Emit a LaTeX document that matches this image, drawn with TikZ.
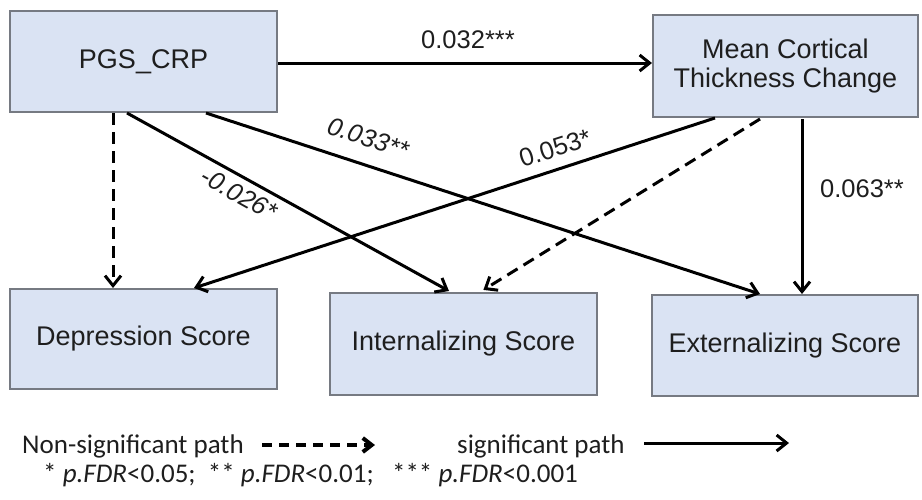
\documentclass[tikz,border=0pt]{standalone}
\usepackage{fontspec}
\setmainfont{Liberation Sans}
\newfontfamily\legfont{Carlito}
\usetikzlibrary{arrows.meta,calc}
\definecolor{boxfill}{RGB}{218,227,243}
\definecolor{boxline}{RGB}{118,122,130}
\definecolor{txt}{RGB}{30,30,30}
\begin{document}
\begin{tikzpicture}[x=1pt,y=-1pt,
  box/.style={draw=boxline, fill=boxfill, line width=2pt, minimum width=267pt, minimum height=101pt, inner sep=0pt, align=center, font=\fontsize{27}{29}\selectfont, text=txt},
  sig/.style={line width=3pt, -{Straight Barb[length=10pt,width=16pt]}},
  nsig/.style={sig, dash pattern=on 12pt off 7pt},
  lbl/.style={font=\fontsize{25.5}{27}\selectfont, text=txt, inner sep=0pt},
  leg/.style={font=\legfont\fontsize{27}{29}\selectfont, text=txt, inner sep=0pt, anchor=base west},
  legdash/.style={line width=4pt, dash pattern=on 10pt off 7pt, -{Straight Barb[length=9pt,width=14pt]}},
]
\useasboundingbox (0,0) rectangle (922,499);
% boxes
\node[box] (pgs) at (143.5,61.5) {PGS\_CRP};
\node[box, minimum width=265pt, minimum height=102pt] (mct) at (785.5,66) {Mean Cortical\\Thickness Change};
\node[box, minimum height=100pt] (dep) at (143.5,339) {Depression Score};
\node[box, minimum height=102pt] (int) at (463.5,344) {Internalizing Score};
\node[box, minimum width=266pt] (ext) at (785,345.5) {Externalizing Score};
% connectors
\draw[sig] ([yshift=-1.5pt]pgs.east) -- ([yshift=-1.5pt]pgs.east -| mct.west);
\draw[nsig] ([xshift=-30.5pt]pgs.south) -- ([xshift=-30.5pt]pgs.south |- dep.north);
\draw[sig] ([xshift=118pt]pgs.south west) -- ([xshift=120pt,yshift=1pt]int.north west);
\draw[sig] ([xshift=197pt]pgs.south west) -- ([xshift=109pt]ext.north west);
\draw[sig] ([xshift=63pt]mct.south west) -- ([xshift=185pt]dep.north west);
\draw[nsig, shorten >=4pt] ([xshift=108pt,yshift=-1pt]mct.south west) -- ([xshift=151pt]int.north west);
\draw[sig] ([xshift=16.5pt,yshift=-1pt]mct.south) -- ([xshift=16.5pt]mct.south |- ext.north);
% labels
\node[lbl] (l1) at (468,40) {0.032***};
\node[lbl, rotate=-18] (l2) at (368,138) {\itshape 0.033**};
\node[lbl, rotate=-29] (l3) at (239,194) {\itshape -0.026*};
\node[lbl, rotate=18] (l4) at (555,148) {0.053*};
\node[lbl] (l5) at (862,189) {0.063**};
% legend
\node[leg] (ns) at (22,453) {Non-significant path};
\coordinate (ns1) at (262,445);
\coordinate (ns2) at (375,445);
\draw[legdash] (ns1) -- (ns2);
\node[leg] (sp) at (457,453) {significant path};
\coordinate (sp1) at (644,443);
\coordinate (sp2) at (789,443);
\draw[sig] (sp1) -- (sp2);
\node[leg] (fdr) at (43,482) {* \textit{p.FDR}<0.05;\ \ ** \textit{p.FDR}<0.01;\ \ \ *** \textit{p.FDR}<0.001};
\end{tikzpicture}
\end{document}
